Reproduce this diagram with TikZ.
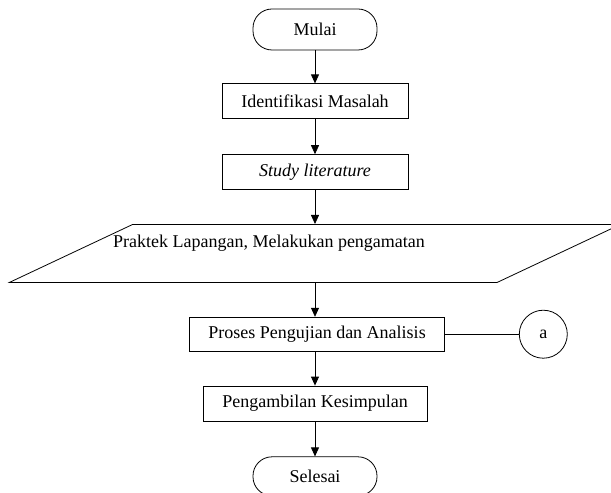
\documentclass[tikz,border=0pt]{standalone}
\usepackage{fontspec}
\setmainfont{Liberation Serif}
\usepackage{tikz}
\usetikzlibrary{shapes.geometric, arrows.meta, positioning}
\newcommand{\flowfont}{\fontsize{18pt}{21pt}\selectfont}
\tikzset{
  terminal/.style={rectangle, draw=black, fill=white, minimum width=124pt,
    minimum height=41pt, rounded corners=19pt, font=\flowfont, line width=0.8pt},
  block/.style={rectangle, draw=black, fill=white, minimum width=186pt,
    minimum height=35pt, inner sep=2pt, font=\flowfont, line width=0.8pt},
  datablock/.style={trapezium, trapezium left angle=25.2, trapezium right angle=154.8,
    trapezium stretches body, draw=black, minimum width=611pt,
    inner xsep=2pt, inner ysep=18.5pt, font=\flowfont, line width=0.8pt},
  connector/.style={circle, draw=black, minimum size=48pt, inner sep=0pt,
    font=\flowfont, line width=0.8pt},
  arrow/.style={-{Triangle[length=9pt, width=8pt]}, line width=0.8pt, color=black},
  plainline/.style={line width=0.8pt, color=black}
}
\begin{document}
\begin{tikzpicture}[x=1pt, y=1pt, node distance=34pt]
  \useasboundingbox (0,0) rectangle (611,493);
  \clip (0,0) rectangle (611,493);

  % Flow nodes
  \node[terminal] (mulai) at (315,463.5) {Mulai};
  \node[block, below=33pt of mulai] (ident) {Identifikasi Masalah};
  \node[block, below=35pt of ident] (study) {\itshape Study literature};
  \node[datablock, below=of study] (obs) {\strut};
  \node[font=\flowfont] (obstext) at ([xshift=-46pt, yshift=10pt]obs.center)
    {Praktek Lapangan, Melakukan pengamatan};
  \node[block, minimum width=255pt, minimum height=34pt, below=of obs, xshift=2pt] (uji)
    {Proses Pengujian dan Analisis};
  \node[connector, right=74pt of uji] (cona) {a};
  \node[block, minimum width=224pt, below=of uji, xshift=-2pt] (simpul)
    {Pengambilan Kesimpulan};
  \node[terminal, minimum height=39pt, below=35pt of simpul] (selesai) {Selesai};

  % Paths
  \draw[arrow] (mulai) -- (ident);
  \draw[arrow] (ident) -- (study);
  \draw[arrow] (study) -- (obs);
  \draw[arrow] (obs.south) -- (obs.south |- uji.north);
  \draw[plainline] (uji) -- (cona);
  \draw[arrow] (uji.south -| simpul.north) -- (simpul);
  \draw[arrow] (simpul) -- (selesai);
\end{tikzpicture}
\end{document}
